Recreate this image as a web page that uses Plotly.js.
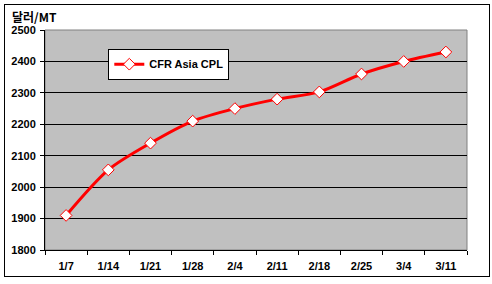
<!DOCTYPE html>
<html><head><meta charset="utf-8">
<script src="https://cdn.plot.ly/plotly-3.0.1.min.js"></script>
<style>
body{margin:0;background:#fff;}
#frame{position:absolute;left:4px;top:4px;width:484px;height:271px;border:1px solid #000;pointer-events:none;}
#chart{position:absolute;left:0;top:0;width:492px;height:284px;}
</style></head>
<body>
<div id="chart"></div>
<div id="frame"></div>
<script>
const categories = ["1/7","1/14","1/21","1/28","2/4","2/11","2/18","2/25","3/4","3/11"];
const cplValues = [1910, 2055, 2140, 2210, 2250, 2280, 2303, 2360, 2400, 2430];
const seriesName = "CFR Asia CPL";
const yTicks = [1800,1900,2000,2100,2200,2300,2400,2500];

const font = {family: "Liberation Sans, Arial, sans-serif", size: 11, color: "#000"};
Plotly.newPlot("chart", [{
  x: categories, y: cplValues, name: seriesName, type: "scatter", mode: "lines+markers",
  line: {color: "#ff0000", width: 3, shape: "spline", smoothing: 0.8},
  marker: {symbol: "diamond", size: 9, color: "#ffffff", line: {color: "#ff0000", width: 1}}
}], {
  width: 492, height: 284,
  margin: {l: 45, r: 25, t: 30, b: 34},
  paper_bgcolor: "rgba(0,0,0,0)", plot_bgcolor: "#c0c0c0",
  font: font,
  showlegend: true,
  legend: {x: 0.15, y: 0.915, xanchor: "left", yanchor: "top", bgcolor: "#fff", bordercolor: "#000", borderwidth: 1,
    font: {family: "Liberation Sans, Arial, sans-serif", size: 11, color: "#000", weight: "bold"}, itemwidth: 30, tracegroupgap: 0},
  xaxis: {type: "category", range: [-0.5, categories.length - 0.5], autorange: false, automargin: false,
    tickson: "boundaries", ticks: "outside", ticklen: 4, tickcolor: "#000",
    showline: true, linecolor: "#000", linewidth: 1, showgrid: false, ticklabelstandoff: 6,
    tickfont: {family: "Liberation Sans, Arial, sans-serif", size: 11, weight: "bold"}, fixedrange: true},
  yaxis: {range: [1800, 2500], autorange: false, automargin: false, tickvals: yTicks, ticks: "outside", ticklen: 4, tickcolor: "#000",
    showline: true, linecolor: "#000", linewidth: 1, showgrid: true, gridcolor: "#000", gridwidth: 1,
    zeroline: false, ticklabelstandoff: 2,
    tickfont: {family: "Liberation Sans, Arial, sans-serif", size: 11, weight: "bold"}, fixedrange: true},
  shapes: [{type: "rect", xref: "paper", yref: "paper", x0: 0, x1: 1, y0: 0, y1: 1, line: {color: "#808080", width: 1}, layer: "below"}],
  annotations: [{text: "달러/MT", xref: "paper", yref: "paper", x: -0.083, y: 1.0636, xanchor: "left", yanchor: "middle",
    showarrow: false, font: {family: "Noto Sans CJK KR, sans-serif", size: 12, weight: "bold", color: "#000"}}]
}, {displayModeBar: false, staticPlot: true});
</script>
</body></html>
